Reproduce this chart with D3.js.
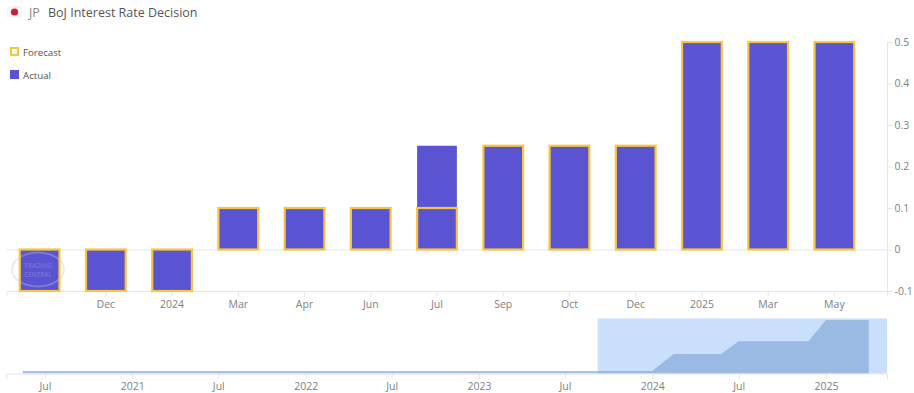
<!DOCTYPE html>
<html>
<head>
<meta charset="utf-8">
<script src="https://cdn.jsdelivr.net/npm/d3@7"></script>
<style>
  html, body { margin: 0; padding: 0; background: #fff; }
  svg { display: block; font-family: "Open Sans", sans-serif; }
  .axis text { fill: #808080; font-size: 10.5px; font-family: "Open Sans", sans-serif; }
  .axis line { stroke: #e6e6e6; }
  .axis path { display: none; }
</style>
</head>
<body>
<div id="chart"></div>
<script>
// main chart values
let categories = ['', 'Dec', '2024', 'Mar', 'Apr', 'Jun', 'Jul', 'Sep', 'Oct', 'Dec', '2025', 'Mar', 'May'];
let actual = [-0.1, -0.1, -0.1, 0.1, 0.1, 0.1, 0.25, 0.25, 0.25, 0.25, 0.5, 0.5, 0.5];
let forecast = [-0.1, -0.1, -0.1, 0.1, 0.1, 0.1, 0.1, 0.25, 0.25, 0.25, 0.5, 0.5, 0.5];
let yTicks = [-0.1, 0, 0.1, 0.2, 0.3, 0.4, 0.5];

// navigator values
let navDates = ['2020-05-15', '2024-01-01', '2024-02-15', '2024-05-25', '2024-07-01', '2024-11-25', '2025-01-01', '2025-04-01'];
let navValues = [-0.1, -0.1, 0.1, 0.1, 0.25, 0.25, 0.5, 0.5];
let navTicks = ['2020-07-01', '2021-01-01', '2021-07-01', '2022-01-01', '2022-07-01', '2023-01-01', '2023-07-01', '2024-01-01', '2024-07-01', '2025-01-01'];
let selectionStart = '2023-09-08';

let width = 914;
let height = 393;
let plotLeft = 6.5;
let plotRight = 887;

let svg = d3.select('#chart').append('svg')
    .attr('width', width)
    .attr('height', height);

// title with the little flag
svg.append('rect')
    .attr('x', 7).attr('y', 6).attr('width', 15).attr('height', 12)
    .attr('fill', '#f6f6f6');
svg.append('circle')
    .attr('cx', 14.5).attr('cy', 12).attr('r', 3.6)
    .attr('fill', '#c8213c');
svg.append('text')
    .attr('x', 29).attr('y', 16.5)
    .attr('font-size', '12.5px').attr('fill', '#888')
    .text('JP');
svg.append('text')
    .attr('x', 48).attr('y', 16.5)
    .attr('font-size', '12.5px').attr('fill', '#555')
    .text('BoJ Interest Rate Decision');

// scales
let x = d3.scaleBand()
    .domain(d3.range(categories.length))
    .range([6.5, 867.5])
    .paddingInner(0.4)
    .paddingOuter(0.2);

let y = d3.scaleLinear()
    .domain([-0.1, 0.5])
    .range([291, 42]);

let parse = d3.timeParse('%Y-%m-%d');

let navX = d3.scaleTime()
    .domain([parse('2020-07-01'), parse('2025-01-01')])
    .range([45, 826]);

let navY = d3.scaleLinear()
    .domain([-0.1, 0.5])
    .range([371, 320]);

// zero line and frame
let lines = svg.append('g').attr('fill', 'none').attr('stroke', '#e6e6e6');
lines.append('line')
    .attr('x1', plotLeft).attr('x2', plotRight)
    .attr('y1', y(0) + 0.5).attr('y2', y(0) + 0.5);
lines.append('line')
    .attr('x1', plotLeft).attr('x2', plotRight)
    .attr('y1', y(-0.1) + 0.5).attr('y2', y(-0.1) + 0.5);
lines.append('line')
    .attr('x1', plotLeft + 0.5).attr('x2', plotLeft + 0.5)
    .attr('y1', y(-0.1)).attr('y2', y(-0.1) + 5);
lines.append('line')
    .attr('x1', plotRight + 0.5).attr('x2', plotRight + 0.5)
    .attr('y1', y(0.5)).attr('y2', y(-0.1) + 5);

// axes
svg.append('g')
    .attr('class', 'axis')
    .attr('transform', 'translate(0,' + (y(-0.1) + 0.5) + ')')
    .call(d3.axisBottom(x)
        .tickValues(d3.range(1, categories.length))
        .tickFormat(function (d) { return categories[d]; })
        .tickSize(5)
        .tickPadding(4));

svg.append('g')
    .attr('class', 'axis')
    .attr('transform', 'translate(' + (plotRight + 0.5) + ',0)')
    .call(d3.axisRight(y)
        .tickValues(yTicks)
        .tickFormat(function (d) { return d; })
        .tickSize(5)
        .tickPadding(2));

// actual bars first, forecast outlines on top
svg.append('g').selectAll('rect').data(actual).enter()
    .append('rect')
    .attr('x', function (d, i) { return x(i); })
    .attr('y', function (d) { return y(Math.max(d, 0)); })
    .attr('width', x.bandwidth())
    .attr('height', function (d) { return Math.abs(y(d) - y(0)); })
    .attr('fill', '#5a54d3');

svg.append('g').selectAll('rect').data(forecast).enter()
    .append('rect')
    .attr('x', function (d, i) { return x(i); })
    .attr('y', function (d) { return y(Math.max(d, 0)); })
    .attr('width', x.bandwidth())
    .attr('height', function (d) { return Math.abs(y(d) - y(0)); })
    .attr('fill', 'none')
    .attr('stroke', '#f8c63e')
    .attr('stroke-width', 2.2);

// watermark
let mark = svg.append('g').attr('opacity', 0.35);
mark.append('ellipse')
    .attr('cx', 38).attr('cy', 269.5).attr('rx', 26).attr('ry', 17)
    .attr('fill', 'none').attr('stroke', '#c4c4d4').attr('stroke-width', 2);
mark.append('text')
    .attr('x', 38).attr('y', 268).attr('text-anchor', 'middle')
    .attr('font-size', '6.5px').attr('fill', '#c4c4d4')
    .text('TRADING');
mark.append('text')
    .attr('x', 38).attr('y', 277).attr('text-anchor', 'middle')
    .attr('font-size', '6.5px').attr('fill', '#c4c4d4')
    .text('CENTRAL');

// legend
svg.append('rect')
    .attr('x', 11).attr('y', 48).attr('width', 7).attr('height', 7)
    .attr('fill', '#fff').attr('stroke', '#f8c63e').attr('stroke-width', 2);
svg.append('text')
    .attr('x', 23).attr('y', 55.5)
    .attr('font-size', '9.7px').attr('fill', '#555')
    .text('Forecast');
svg.append('rect')
    .attr('x', 10).attr('y', 70).attr('width', 9).attr('height', 9)
    .attr('fill', '#5a54d3');
svg.append('text')
    .attr('x', 23).attr('y', 78.5)
    .attr('font-size', '9.7px').attr('fill', '#555')
    .text('Actual');

// navigator
let navData = navDates.map(function (d, i) {
    return { date: parse(d), value: navValues[i] };
});

svg.append('rect')
    .attr('x', navX(parse(selectionStart)))
    .attr('y', 318.5)
    .attr('width', plotRight - navX(parse(selectionStart)))
    .attr('height', 55)
    .attr('fill', '#c9dffb');

let navArea = d3.area()
    .x(function (d) { return navX(d.date); })
    .y0(373.5)
    .y1(function (d) { return navY(d.value); });

svg.append('path')
    .datum(navData)
    .attr('d', navArea)
    .attr('fill', '#86a8d8')
    .attr('fill-opacity', 0.7);

svg.append('g')
    .attr('fill', 'none').attr('stroke', '#e6e6e6')
    .call(function (g) {
        g.append('line')
            .attr('x1', plotLeft).attr('x2', plotRight)
            .attr('y1', 374).attr('y2', 374);
        g.append('line')
            .attr('x1', plotLeft + 0.5).attr('x2', plotLeft + 0.5)
            .attr('y1', 374).attr('y2', 379);
        g.append('line')
            .attr('x1', plotRight + 0.5).attr('x2', plotRight + 0.5)
            .attr('y1', 374).attr('y2', 379);
    });

svg.append('g')
    .attr('class', 'axis')
    .attr('transform', 'translate(0,374)')
    .call(d3.axisBottom(navX)
        .tickValues(navTicks.map(parse))
        .tickFormat(function (d) {
            return d.getMonth() === 0 ? d.getFullYear() : 'Jul';
        })
        .tickSize(5)
        .tickPadding(4));
</script>
</body>
</html>
